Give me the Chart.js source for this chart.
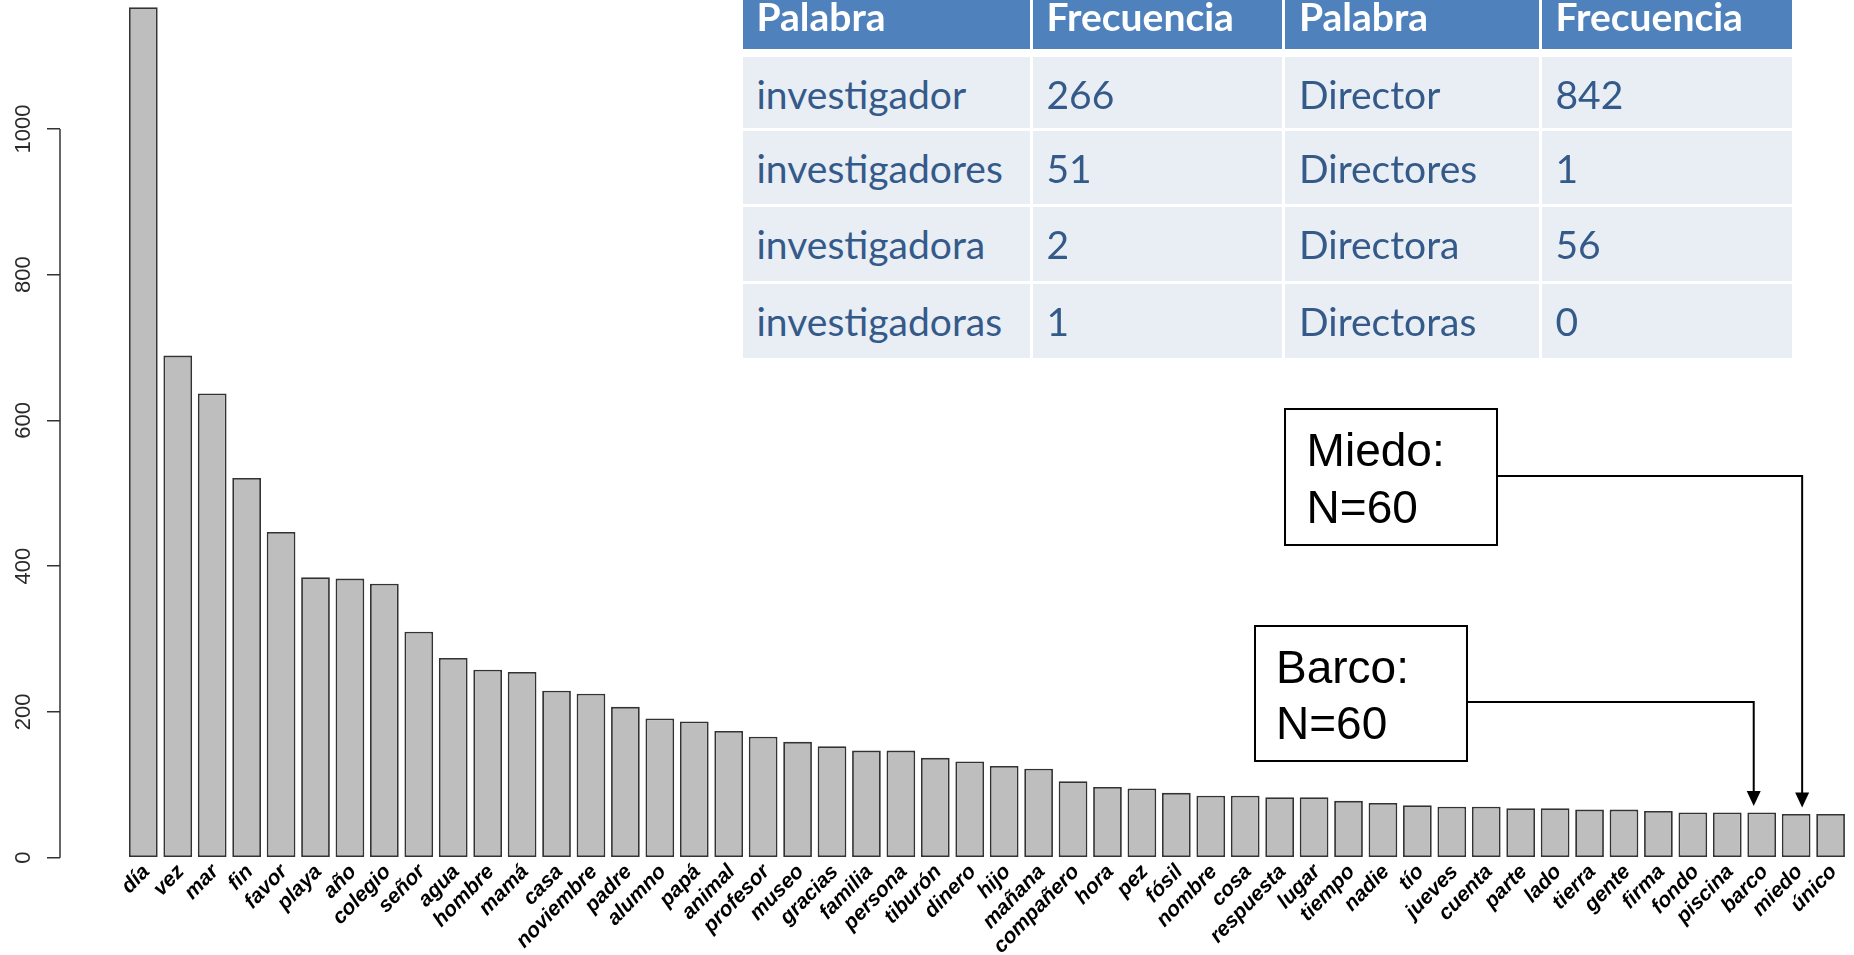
<!DOCTYPE html>
<html>
<head>
<meta charset="utf-8">
<script src="https://cdn.jsdelivr.net/npm/chart.js@4.4.1/dist/chart.umd.min.js"></script>
<style>
html,body{margin:0;padding:0;background:#fff;width:1854px;height:955px;overflow:hidden;}
#wrap{position:relative;width:1854px;height:955px;}
#c{position:absolute;left:0;top:0;}
.cell{position:absolute;box-sizing:border-box;white-space:nowrap;padding-left:14px;font-family:Lato,"Open Sans",sans-serif;}
.hd{background:#4F81BD;color:#fff;font-weight:bold;font-size:39px;line-height:33px;}
.bd{background:#E9EDF4;color:#345A8A;font-size:39px;line-height:75px;}
</style>
</head>
<body>
<div id="wrap">
  <canvas id="c" width="1854" height="955"></canvas>
  <div id="tbl"></div>
</div>
<script>
// ---------- data ----------
const categories = ['día','vez','mar','fin','favor','playa','año','colegio','señor','agua',
  'hombre','mamá','casa','noviembre','padre','alumno','papá','animal','profesor','museo',
  'gracias','familia','persona','tiburón','dinero','hijo','mañana','compañero','hora','pez',
  'fósil','nombre','cosa','respuesta','lugar','tiempo','nadie','tío','jueves','cuenta',
  'parte','lado','tierra','gente','firma','fondo','piscina','barco','miedo','único'];
const frequencies = [1167,689,637,521,447,385,383,376,310,274,
  258,255,229,225,207,191,187,174,166,159,
  153,147,147,137,132,126,122,105,97,95,
  89,85,85,83,83,78,75,72,70,70,
  68,68,66,66,64,62,62,62,60,60];
const yTickValues = [0,200,400,600,800,1000];

const tableHeader = ['Palabra','Frecuencia','Palabra','Frecuencia'];
const tableWordsA = ['investigador','investigadores','investigadora','investigadoras'];
const tableFreqA = [266,51,2,1];
const tableWordsB = ['Director','Directores','Directora','Directoras'];
const tableFreqB = [842,1,56,0];

const calloutWords = ['miedo','barco'];
const calloutTitles = ['Miedo:','Barco:'];
const calloutTexts = ['N=60','N=60'];

// ---------- layout (positions / sizes) ----------
const Y_AXIS_W = 60, X_AXIS_H = 97.3, Y_MAX = 1177, X_MIN = -2.42, X_MAX = 49.68;
const calloutLayout = [
  {box:[1285,409,1497,545], lineY:476, dx:6, textX:1306.6, base:[466,522.7]},
  {box:[1255,626,1467,761], lineY:702, dx:-8, textX:1276, base:[683.3,739]}
];
const colSpans = [[742.5,1029.5],[1032.5,1282],[1285,1538.5],[1541.5,1791.5]];
const rowSpans = [[0,48.5],[56.7,127.7],[131,204],[207.3,281],[284,357.7]];

// ---------- table ----------
(function(){
  const tbl = document.getElementById('tbl');
  const rows = [tableHeader];
  for (let i = 0; i < tableWordsA.length; i++) rows.push([tableWordsA[i], String(tableFreqA[i]), tableWordsB[i], String(tableFreqB[i])]);
  rows.forEach((r, ri) => {
    r.forEach((txt, ci) => {
      const d = document.createElement('div');
      d.className = 'cell ' + (ri === 0 ? 'hd' : 'bd');
      d.style.left = colSpans[ci][0] + 'px';
      d.style.width = (colSpans[ci][1] - colSpans[ci][0]) + 'px';
      d.style.top = rowSpans[ri][0] + 'px';
      d.style.height = (rowSpans[ri][1] - rowSpans[ri][0]) + 'px';
      d.textContent = txt;
      tbl.appendChild(d);
    });
  });
})();

// ---------- chart ----------
const FONT = '"Liberation Sans", Arial, sans-serif';

const decorPlugin = {
  id: 'decor',
  afterDraw(chart) {
    const ctx = chart.ctx;
    const xs = chart.scales.x, ys = chart.scales.y;
    ctx.save();
    // y axis line from 0 to 1000
    ctx.strokeStyle = '#333';
    ctx.lineWidth = 1.5;
    ctx.beginPath();
    ctx.moveTo(ys.right, ys.getPixelForValue(yTickValues[0]));
    ctx.lineTo(ys.right, ys.getPixelForValue(yTickValues[yTickValues.length - 1]));
    ctx.stroke();
    // callouts
    calloutWords.forEach((w, k) => {
      const L = calloutLayout[k];
      const idx = categories.indexOf(w);
      const ax = xs.getPixelForValue(idx) + L.dx;
      const tipY = ys.getPixelForValue(frequencies[idx]) - 6.5;
      ctx.strokeStyle = '#000';
      ctx.fillStyle = '#000';
      ctx.lineWidth = 2;
      ctx.strokeRect(L.box[0], L.box[1], L.box[2] - L.box[0], L.box[3] - L.box[1]);
      ctx.font = '46px ' + FONT;
      ctx.textAlign = 'left';
      ctx.textBaseline = 'alphabetic';
      ctx.fillText(calloutTitles[k], L.textX, L.base[0]);
      ctx.fillText(calloutTexts[k], L.textX, L.base[1]);
      ctx.beginPath();
      ctx.moveTo(L.box[2], L.lineY);
      ctx.lineTo(ax, L.lineY);
      ctx.lineTo(ax, tipY - 14);
      ctx.stroke();
      ctx.beginPath();
      ctx.moveTo(ax - 7, tipY - 15);
      ctx.lineTo(ax + 7, tipY - 15);
      ctx.lineTo(ax, tipY);
      ctx.closePath();
      ctx.fill();
    });
    ctx.restore();
  }
};

new Chart(document.getElementById('c'), {
  type: 'bar',
  data: {
    datasets: [{
      data: frequencies.map((v, i) => ({x: i, y: v})),
      backgroundColor: '#BEBEBE',
      borderColor: '#333333',
      borderWidth: 1.8,
      borderSkipped: false,
      categoryPercentage: 1,
      barPercentage: 0.834
    }]
  },
  options: {
    responsive: false,
    animation: false,
    devicePixelRatio: 1,
    layout: {padding: 0},
    plugins: {legend: {display: false}, tooltip: {enabled: false}},
    scales: {
      x: {
        type: 'linear',
        offset: false,
        min: X_MIN,
        max: X_MAX,
        grid: {display: false, drawTicks: false, tickLength: 0},
        border: {display: false},
        afterBuildTicks: s => { s.ticks = categories.map((_, i) => ({value: i})); },
        afterFit: s => { s.height = X_AXIS_H; s.paddingLeft = 0; s.paddingRight = 0; },
        ticks: {
          autoSkip: false,
          minRotation: 46,
          maxRotation: 46,
          padding: 2,
          labelOffset: 3,
          color: '#000',
          font: {family: FONT, size: 21, style: 'italic', weight: 'bold'},
          callback: v => categories[Math.round(v)] ?? ''
        }
      },
      y: {
        min: 0,
        max: Y_MAX,
        position: 'left',
        grid: {display: true, drawOnChartArea: false, drawTicks: true, tickLength: 13, color: '#333', lineWidth: 1.5},
        border: {display: false},
        afterBuildTicks: s => { s.ticks = yTickValues.map(v => ({value: v})); },
        afterFit: s => { s.width = Y_AXIS_W; s.paddingTop = 0; s.paddingBottom = 0; },
        ticks: {
          minRotation: 90,
          maxRotation: 90,
          crossAlign: 'center',
          padding: -1.5,
          color: '#2a2a2a',
          font: {family: FONT, size: 22},
          callback: v => String(v)
        }
      }
    }
  },
  plugins: [decorPlugin]
});
</script>
</body>
</html>
